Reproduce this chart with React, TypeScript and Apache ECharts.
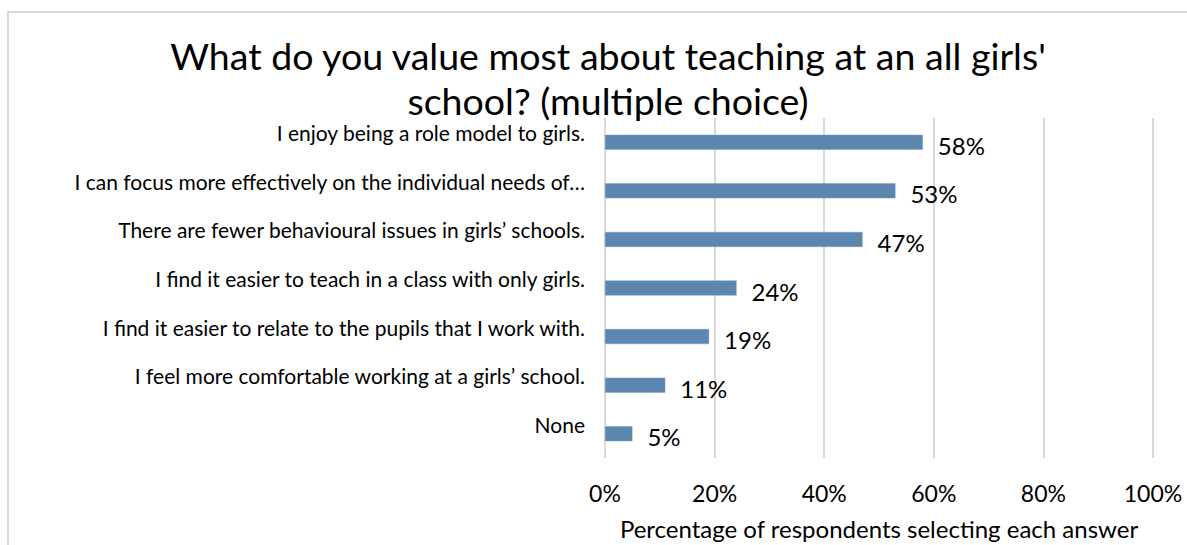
import React, { useEffect, useRef } from "react";
import * as echarts from "echarts";

const categories = [
  "I enjoy being a role model to girls.",
  "I can focus more effectively on the individual needs of…",
  "There are fewer behavioural issues in girls’ schools.",
  "I find it easier to teach in a class with only girls.",
  "I find it easier to relate to the pupils that I work with.",
  "I feel more comfortable working at a girls’ school.",
  "None",
];
const values = [58, 53, 47, 24, 19, 11, 5];
const xTicks = [0, 20, 40, 60, 80, 100];

export default function App() {
  const ref = useRef<HTMLDivElement>(null);
  useEffect(() => {
    if (!ref.current) return;
    const chart = echarts.init(ref.current, undefined, { renderer: "svg" });
    const font = "Lato, 'Noto Sans', sans-serif";
    chart.setOption({
      animation: false,
      backgroundColor: "#ffffff",
      textStyle: { fontFamily: font },
      title: {
        text: "What do you value most about teaching at an all girls'\nschool? (multiple choice)",
        left: 603,
        top: 28,
        textAlign: "center",
        textStyle: {
          fontFamily: font,
          fontSize: 37.5,
          fontWeight: "normal",
          color: "#000000",
          lineHeight: 45,
        },
      },
      graphic: [
        {
          type: "rect",
          shape: { x: 8, y: 12, width: 1200, height: 600 },
          style: { fill: "none", stroke: "#d9d9d9", lineWidth: 2 },
          silent: true,
          z: -1,
        },
      ],
      grid: { left: 605, right: 34, top: 118, bottom: 80, containLabel: false },
      xAxis: {
        type: "value",
        min: 0,
        max: 100,
        interval: 20,
        axisLine: { show: false },
        axisTick: { show: false },
        splitLine: { show: true, lineStyle: { color: "#d9d9d9", width: 2 } },
        axisLabel: {
          formatter: (v: number) => (xTicks.includes(v) ? v + "%" : ""),
          fontSize: 23,
          color: "#000000",
          margin: 23,
          fontFamily: font,
        },
        name: "Percentage of respondents selecting each answer",
        nameLocation: "middle",
        nameGap: 58,
        nameTextStyle: { fontSize: 24, color: "#000000", fontFamily: font },
      },
      yAxis: {
        type: "category",
        data: categories,
        inverse: true,
        axisLine: { show: false },
        axisTick: { show: false },
        splitLine: { show: false },
        axisLabel: {
          fontSize: 21,
          color: "#000000",
          margin: 20,
          verticalAlign: "bottom",
          lineHeight: 19,
          fontFamily: font,
        },
      },
      series: [
        {
          type: "bar",
          data: values,
          barWidth: 15,
          itemStyle: { color: "#5B86AD", borderColor: "#7A9CBD", borderWidth: 0.5 },
          label: {
            show: true,
            position: "right",
            distance: 15,
            offset: [0, 3],
            formatter: "{c}%",
            fontSize: 24,
            color: "#000000",
            fontFamily: font,
          },
        },
      ],
    });
    return () => chart.dispose();
  }, []);
  return (
    <div
      ref={ref}
      style={{ position: "fixed", left: 0, top: 0, width: 1187, height: 545 }}
    />
  );
}
